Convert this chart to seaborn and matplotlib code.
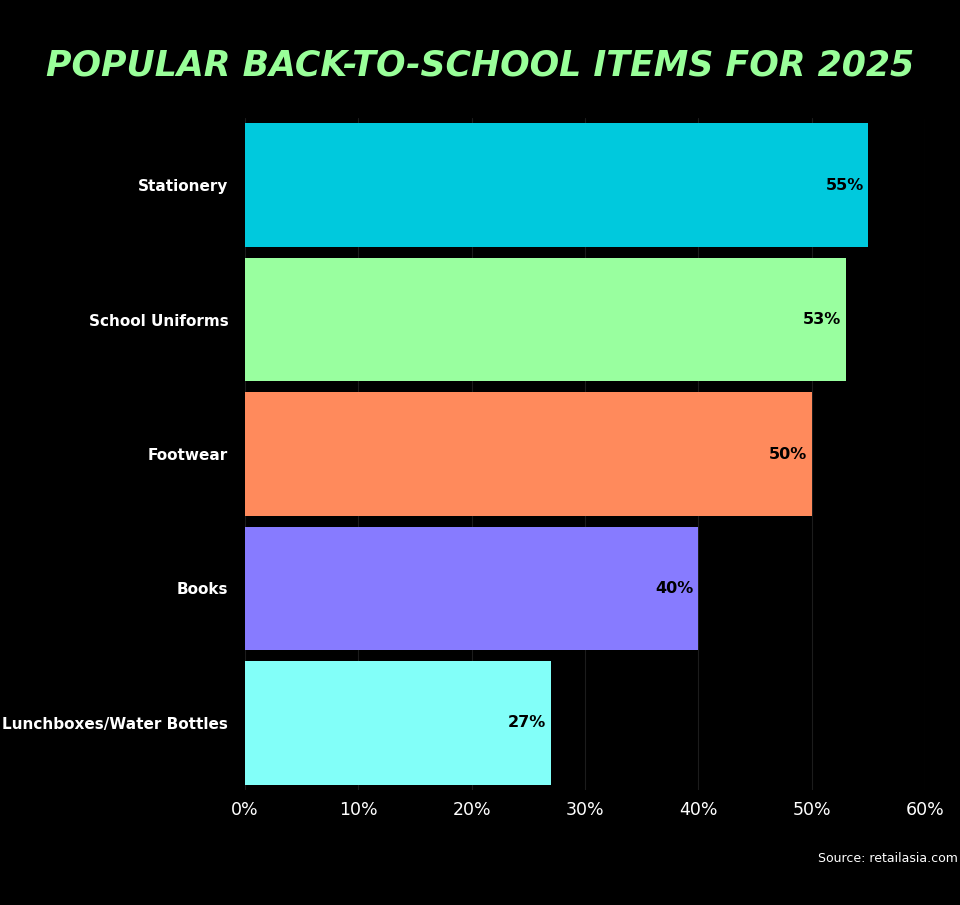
import matplotlib
matplotlib.use("Agg")
import matplotlib.pyplot as plt
import seaborn as sns
import pandas as pd

categories = ["Stationery", "School Uniforms", "Footwear", "Books", "Lunchboxes/Water Bottles"]
values = [55, 53, 50, 40, 27]
colors = ["#00C9DD", "#99FF9F", "#FF8A5C", "#877BFF", "#82FFF9"]
ticks = [0, 10, 20, 30, 40, 50, 60]

sns.set_theme(style="dark")
plt.rcParams['font.family'] = ['DejaVu Sans']
df = pd.DataFrame({"cat": categories, "val": values})

fig = plt.figure(figsize=(9.6, 9.05), dpi=100, facecolor="black")
ax = fig.add_axes([245/960, 1-790/905, 680/960, 672/905], facecolor="black")
sns.barplot(data=df, y="cat", x="val", hue="cat", palette=colors, legend=False,
            width=0.92, ax=ax, orient="h", edgecolor="none", saturation=1)
ax.set_xlim(0, 60)
ax.set_ylim(4.5, -0.5)
ax.set_xticks(ticks)
ax.set_xticklabels([f"{t}%" for t in ticks], color="white", fontsize=12.5)
ax.tick_params(axis="y", colors="white", labelsize=11, length=0, pad=12)
ax.tick_params(axis="x", length=0, pad=8)
for lbl in ax.get_yticklabels():
    lbl.set_fontweight("bold")
ax.set_xlabel(""); ax.set_ylabel("")
for s in ax.spines.values():
    s.set_visible(False)
ax.grid(axis="x", color="#1c1c1c", linewidth=0.8)
ax.grid(axis="y", visible=False)
ax.set_axisbelow(True)
for i, v in enumerate(values):
    ax.text(v - 0.4, i, f"{v}%", ha="right", va="center", color="black",
            fontsize=11.5, fontweight="bold")

fig.text(0.5, 1-66/905, "POPULAR BACK-TO-SCHOOL ITEMS FOR 2025", ha="center", va="center",
         color="#99FF99", fontsize=25, fontweight="heavy", fontstyle="italic")
fig.text(0.998, 1-858/905, "Source: retailasia.com", ha="right", va="center",
         color="white", fontsize=9)
fig.savefig("out.png", dpi=100, facecolor="black")
